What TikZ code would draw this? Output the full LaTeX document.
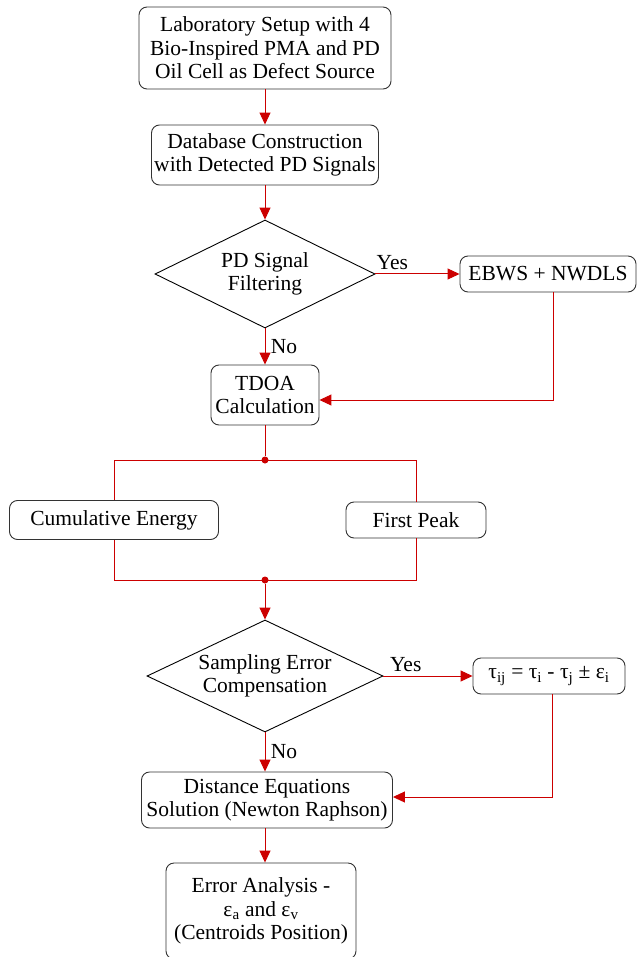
\documentclass[tikz,border=0pt]{standalone}
\usepackage{fontspec}
\setmainfont{Liberation Serif}
\usetikzlibrary{shapes.geometric,arrows.meta}

\definecolor{flowred}{RGB}{204,0,0}

\begin{document}
\begin{tikzpicture}[x=1pt,y=-1pt,
    font=\fontsize{21.5}{23.5}\selectfont,
    box/.style={draw=black!80,line width=0.9pt,rounded corners=8pt,align=center,inner sep=0pt},
    decision/.style={draw=black,line width=0.9pt,diamond,aspect=2.1,align=center,inner sep=0pt},
    flow/.style={draw=flowred,line width=1pt,-{Triangle[length=12pt,width=11pt]}},
    wire/.style={draw=flowred,line width=1pt},
    dot/.style={circle,fill=flowred,inner sep=0pt,minimum size=7pt}]
  \useasboundingbox (0,0) rectangle (638,957);

  \node[box,minimum width=252,minimum height=82] (setup) at (265,48)
       {Laboratory Setup with 4\\Bio-Inspired PMA and PD\\Oil Cell as Defect Source};
  \node[box,minimum width=227,minimum height=60] (dbase) at (265,155)
       {Database Construction\\with Detected PD Signals};
  \node[decision,minimum width=220,minimum height=108] (filt) at (265,274)
       {PD Signal\\Filtering};
  \node[box,minimum width=176,minimum height=36] (ebws) at (548,274) {EBWS + NWDLS};
  \node[box,minimum width=108,minimum height=60] (tdoa) at (265,395) {TDOA\\Calculation};

  \node[box,minimum width=209,minimum height=39] (cumul) at (114,520) {Cumulative Energy};
  \node[box,minimum width=140,minimum height=36] (peak) at (416,520) {First Peak};

  \node[decision,minimum width=236,minimum height=112] (samp) at (265,676)
       {Sampling Error\\Compensation};
  \node[box,minimum width=152,minimum height=36] (tau) at (549,676)
       {τ\textsubscript{ij} = τ\textsubscript{i} - τ\textsubscript{j} ± ε\textsubscript{i}};
  \node[box,minimum width=251,minimum height=56] (dist) at (267,800)
       {Distance Equations\\Solution (Newton Raphson)};
  \node[box,minimum width=190,minimum height=96] (error) at (261,911)
       {Error Analysis -\\ε\textsubscript{a} and ε\textsubscript{v}\\(Centroids Position)};

  % junctions
  \node[dot] (split) at (265,460) {};
  \node[dot] (merge) at (265,580) {};
  \coordinate (cumT) at (cumul.north |- split);
  \coordinate (peakT) at (peak.north |- split);
  \coordinate (cumB) at (cumul.south |- merge);
  \coordinate (peakB) at (peak.south |- merge);
  \coordinate (ebwsC) at (553,400);
  \coordinate (tauC) at (552,797);

  \draw[flow] (setup) -- (dbase);
  \draw[flow] (dbase) -- (filt);
  \draw[flow] (filt.east) -- (ebws.west) node[pos=0.2,above] {Yes};
  \draw[flow] (filt.south) -- (tdoa.north) node[midway,right,xshift=2pt] {No};
  \draw[flow] (ebws.south -| ebwsC) -- (ebwsC) -- (tdoa.east |- ebwsC);

  \draw[wire] (tdoa.south) -- (split);
  \draw[wire] (cumul.north) -- (cumT) -- (peakT) -- (peak.north);
  \draw[wire] (cumul.south) -- (cumB) -- (peakB) -- (peak.south);
  \draw[flow] (merge) -- (samp.north);

  \draw[flow] (samp.east) -- (tau.west) node[pos=0.25,above] {Yes};
  \draw[flow] (samp.south) -- (samp.south |- dist.north) node[midway,right,xshift=2pt] {No};
  \draw[flow] (tau.south -| tauC) -- (tauC) -- (dist.east |- tauC);
  \draw[flow] (dist.south -| samp.south) -- (samp.south |- error.north);
\end{tikzpicture}
\end{document}
